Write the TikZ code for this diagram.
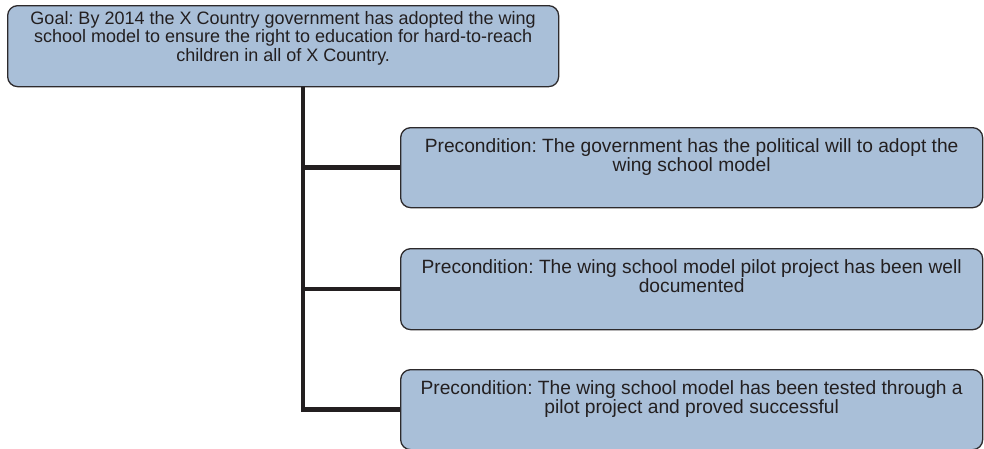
\documentclass[tikz,border=0pt]{standalone}
\usepackage{fontspec}
\setmainfont{Liberation Sans}
\frenchspacing
\definecolor{boxfill}{RGB}{169,191,216}
\definecolor{boxline}{RGB}{45,42,44}
\definecolor{trunkc}{RGB}{35,31,32}
\definecolor{textc}{RGB}{35,31,32}
\tikzset{
  box/.style={draw=boxline, line width=1.3pt, fill=boxfill, rounded corners=10pt,
    rectangle, inner sep=0pt, anchor=north west},
  txt/.style={text=textc, align=center, anchor=north, inner sep=0pt},
  goalfont/.style={font=\fontsize{18}{18.5}\selectfont},
  prefont/.style={font=\fontsize{19.2}{19.5}\selectfont},
  link/.style={draw=trunkc, line width=4.5pt, line join=miter}
}
\begin{document}
\begin{tikzpicture}[x=1pt, y=-1pt]
  \useasboundingbox (0,0) rectangle (984,448);

  % goal
  \node[box, minimum width=551pt, minimum height=81pt] (goal) at (7,5) {};
  \node[txt, goalfont] (goaltxt) at ([yshift=-6pt]goal.north)
    {Goal: By 2014 the X Country government has adopted the wing\\
     school model to ensure the right to education for hard-to-reach\\
     children in all of X Country.};

  % preconditions
  \node[box, minimum width=582pt, minimum height=80pt] (p1) at (400,127) {};
  \node[txt, prefont] (p1txt) at ([yshift=-11pt]p1.north)
    {Precondition: The government has the political will to adopt the\\
     wing school model};

  \node[box, minimum width=582pt, minimum height=81pt] (p2) at (400,248) {};
  \node[txt, prefont] (p2txt) at ([yshift=-11pt]p2.north)
    {Precondition: The wing school model pilot project has been well\\
     documented};

  \node[box, minimum width=582pt, minimum height=80pt] (p3) at (400,369) {};
  \node[txt, prefont] (p3txt) at ([yshift=-11pt]p3.north)
    {Precondition: The wing school model has been tested through a\\
     pilot project and proved successful};

  % connector tree
  \coordinate (trunk) at (303,86);
  \draw[link] (goal.south -| trunk) -- (p3.west -| trunk) -- (p3.west);
  \draw[link] (p1.west -| trunk) -- (p1.west);
  \draw[link] (p2.west -| trunk) -- (p2.west);
\end{tikzpicture}
\end{document}
